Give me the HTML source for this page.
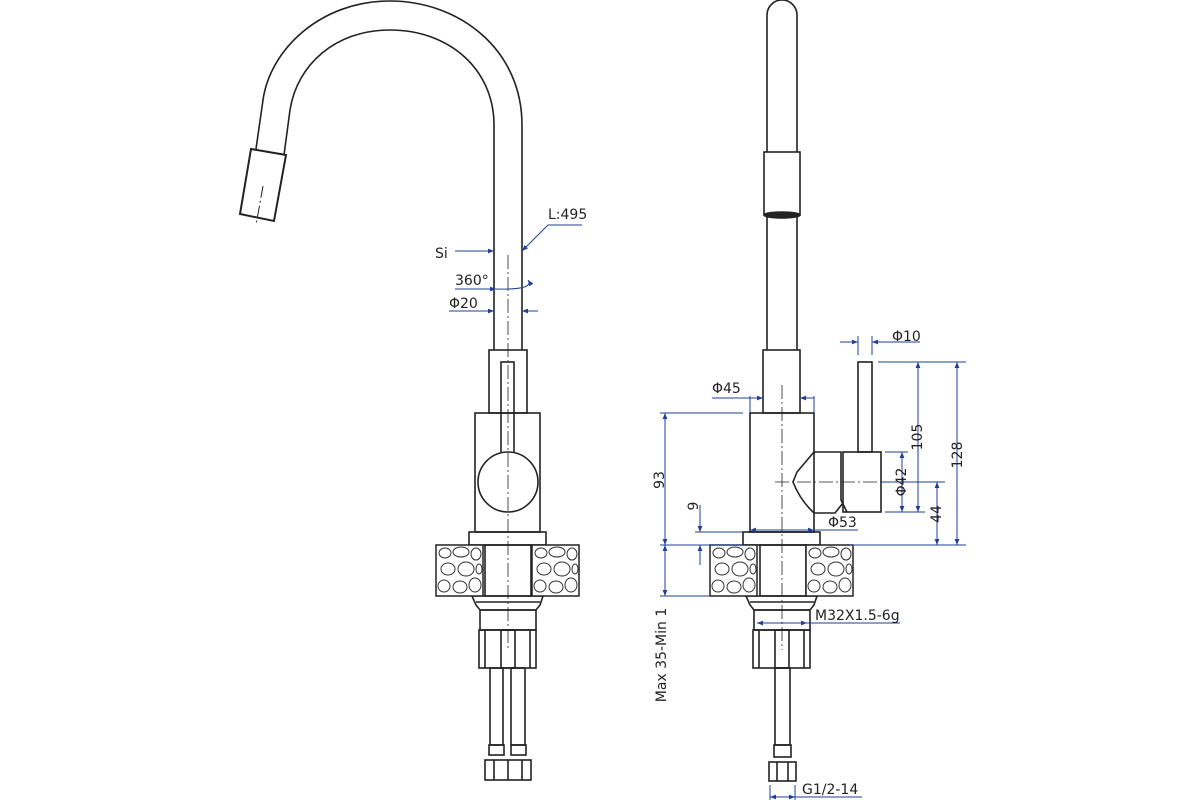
<!DOCTYPE html>
<html><head><meta charset="utf-8"><style>
html,body{margin:0;padding:0;background:#fff;}
svg{display:block;}
text{font-family:"DejaVu Sans","Liberation Sans",sans-serif;font-size:14px;fill:#222;}
</style></head><body>
<svg width="1200" height="800" viewBox="0 0 1200 800" xmlns="http://www.w3.org/2000/svg">
<defs>
<marker id="a" viewBox="0 0 10 10" refX="10" refY="5" markerWidth="9" markerHeight="6" orient="auto-start-reverse" markerUnits="userSpaceOnUse"><path d="M0,1 L10,5 L0,9 z" fill="#1f3f99"/></marker>
<g id="stone">
<rect x="0" y="0" width="47" height="51" fill="#fff" stroke="#222" stroke-width="1.5"/>
<g fill="none" stroke="#333" stroke-width="1">
<ellipse cx="9" cy="8" rx="6" ry="5"/><ellipse cx="25" cy="7" rx="8" ry="5"/><ellipse cx="40" cy="9" rx="5" ry="6"/>
<ellipse cx="12" cy="24" rx="7" ry="6"/><ellipse cx="30" cy="24" rx="8" ry="7"/><ellipse cx="8" cy="41" rx="6" ry="6"/>
<ellipse cx="24" cy="42" rx="7" ry="6"/><ellipse cx="39" cy="40" rx="6" ry="7"/><ellipse cx="43" cy="24" rx="3" ry="5"/>
</g></g>
</defs>
<g fill="none" stroke="#222" stroke-width="1.6">
<!-- LEFT VIEW spout -->
<path d="M522,350 L522,125 C522,50 460,1 390,1 C320,1 270,50 263,100 L256,149"/>
<path d="M494,350 L494,125 C494,70 450,30 390,30 C335,30 297,65 290,110 L284,155"/>
<path d="M251,149 L286,155 L274,221 L240,214 Z" stroke-width="2"/>
<line x1="263" y1="186" x2="256" y2="225" stroke-width="1" stroke-dasharray="12,3,2,3"/>
<rect x="489" y="350" width="38" height="63"/>
<rect x="501" y="362" width="13" height="92"/>
<rect x="475" y="413" width="65" height="119"/>
<circle cx="508" cy="482" r="30" fill="#fff"/>
<rect x="469" y="532" width="77" height="13"/>
<rect x="485" y="545" width="46" height="51"/>
<path d="M472,596 L543,596 L540,605 L536,610 L480,610 L476,605 Z"/>
<line x1="476" y1="602" x2="540" y2="602"/>
<rect x="480" y="610" width="56" height="20"/>
<rect x="479" y="630" width="57" height="38"/>
<line x1="485" y1="630" x2="485" y2="668"/><line x1="530" y1="630" x2="530" y2="668"/>
<rect x="501" y="630" width="14" height="38"/>
<rect x="490" y="668" width="13" height="77"/><rect x="511" y="668" width="14" height="77"/>
<rect x="489" y="745" width="15" height="10"/><rect x="511" y="745" width="15" height="10"/>
<rect x="485" y="760" width="46" height="20"/>
<line x1="494" y1="760" x2="494" y2="780"/><line x1="508" y1="760" x2="508" y2="780"/><line x1="522" y1="760" x2="522" y2="780"/>
<!-- RIGHT VIEW -->
<path d="M767,350 L767,15 A15,15 0 0 1 797,15 L797,350"/>
<rect x="764" y="152" width="36" height="63" fill="#fff"/>
<ellipse cx="782" cy="215" rx="18" ry="3" fill="#222"/>
<rect x="763" y="350" width="37" height="63"/>
<rect x="750" y="413" width="64" height="119"/>
<path d="M814,452 L797,472 L793,482 Q800,500 814,513 L835,513 L843,503"/>
<path d="M814,452 L841,452 L841,500 L847,512"/>
<rect x="843" y="452" width="38" height="60"/>
<rect x="858" y="362" width="14" height="90"/>
<rect x="743" y="532" width="77" height="13"/>
<rect x="760" y="545" width="46" height="51"/>
<path d="M746,596 L817,596 L814,605 L810,610 L754,610 L750,605 Z"/>
<line x1="750" y1="602" x2="814" y2="602"/>
<rect x="754" y="610" width="56" height="20"/>
<rect x="753" y="630" width="57" height="38"/>
<line x1="759" y1="630" x2="759" y2="668"/><line x1="804" y1="630" x2="804" y2="668"/>
<rect x="775" y="630" width="14" height="38"/>
<rect x="775" y="668" width="15" height="77"/>
<rect x="774" y="745" width="17" height="12"/>
<rect x="769" y="762" width="27" height="19"/>
<line x1="777" y1="762" x2="777" y2="781"/><line x1="788" y1="762" x2="788" y2="781"/>
</g>
<use href="#stone" x="436" y="545"/><use href="#stone" x="532" y="545"/>
<use href="#stone" x="710" y="545"/><use href="#stone" x="806" y="545"/>
<!-- center lines -->
<g stroke="#222" stroke-width="0.8" stroke-dasharray="14,3,2,3" fill="none">
<line x1="508" y1="255" x2="508" y2="650"/>
<line x1="782" y1="385" x2="782" y2="650"/>
<line x1="775" y1="482" x2="880" y2="482"/>
</g>
<!-- dimensions -->
<g stroke="#1f3f99" stroke-width="1" fill="none">
<line x1="455" y1="251" x2="494" y2="251" marker-end="url(#a)"/>
<polyline points="582,225 548,225 522,251" marker-end="url(#a)"/>
<line x1="455" y1="289" x2="496" y2="289" marker-end="url(#a)"/>
<path d="M496,289 Q535,290 528,280" marker-end="url(#a)"/>
<line x1="449" y1="311" x2="494" y2="311" marker-end="url(#a)"/>
<line x1="538" y1="311" x2="522" y2="311" marker-end="url(#a)"/>
<line x1="840" y1="342" x2="858" y2="342" marker-end="url(#a)"/>
<line x1="920" y1="342" x2="872" y2="342" marker-end="url(#a)"/>
<line x1="858" y1="336" x2="858" y2="355"/><line x1="872" y1="336" x2="872" y2="355"/>
<line x1="878" y1="362" x2="966" y2="362"/>
<line x1="850" y1="545" x2="966" y2="545"/>
<line x1="885" y1="512" x2="925" y2="512"/>
<line x1="885" y1="452" x2="908" y2="452"/>
<line x1="880" y1="482" x2="945" y2="482"/>
<line x1="957" y1="362" x2="957" y2="545" marker-start="url(#a)" marker-end="url(#a)"/>
<line x1="918" y1="362" x2="918" y2="512" marker-start="url(#a)" marker-end="url(#a)"/>
<line x1="902" y1="452" x2="902" y2="512" marker-start="url(#a)" marker-end="url(#a)"/>
<line x1="937" y1="482" x2="937" y2="545" marker-start="url(#a)" marker-end="url(#a)"/>
<line x1="660" y1="413" x2="743" y2="413"/>
<line x1="660" y1="545" x2="743" y2="545"/>
<line x1="660" y1="596" x2="710" y2="596"/>
<line x1="695" y1="532" x2="743" y2="532"/>
<line x1="665" y1="413" x2="665" y2="545" marker-start="url(#a)" marker-end="url(#a)"/>
<line x1="665" y1="545" x2="665" y2="596" marker-start="url(#a)" marker-end="url(#a)"/>
<line x1="700" y1="505" x2="700" y2="532" marker-end="url(#a)"/>
<line x1="700" y1="565" x2="700" y2="545" marker-end="url(#a)"/>
<line x1="750" y1="396" x2="750" y2="413"/><line x1="814" y1="396" x2="814" y2="413"/>
<line x1="712" y1="398" x2="763" y2="398" marker-end="url(#a)"/>
<line x1="750" y1="398" x2="763" y2="398"/>
<line x1="814" y1="398" x2="800" y2="398" marker-end="url(#a)"/>
<line x1="763" y1="530" x2="750" y2="530" marker-end="url(#a)"/>
<line x1="800" y1="530" x2="814" y2="530" marker-end="url(#a)"/>
<line x1="750" y1="530" x2="858" y2="530"/>
<line x1="770" y1="623" x2="757" y2="623" marker-end="url(#a)"/>
<line x1="795" y1="623" x2="807" y2="623" marker-end="url(#a)"/>
<line x1="757" y1="623" x2="900" y2="623"/>
<line x1="770" y1="785" x2="770" y2="800"/><line x1="795" y1="785" x2="795" y2="800"/>
<line x1="782" y1="797" x2="770" y2="797" marker-end="url(#a)"/>
<line x1="782" y1="797" x2="795" y2="797" marker-end="url(#a)"/>
<line x1="795" y1="797" x2="862" y2="797"/>
</g>
<text x="435" y="258">Si</text>
<text x="548" y="219">L:495</text>
<text x="455" y="285">360°</text>
<text x="449" y="308">Φ20</text>
<text x="892" y="341">Φ10</text>
<text x="712" y="393">Φ45</text>
<text x="828" y="527">Φ53</text>
<text x="815" y="620">M32X1.5-6g</text>
<text x="802" y="794">G1/2-14</text>
<text transform="translate(962,455) rotate(-90)" text-anchor="middle">128</text>
<text transform="translate(922,437) rotate(-90)" text-anchor="middle">105</text>
<text transform="translate(906,482) rotate(-90)" text-anchor="middle">Φ42</text>
<text transform="translate(941,514) rotate(-90)" text-anchor="middle">44</text>
<text transform="translate(664,480) rotate(-90)" text-anchor="middle">93</text>
<text transform="translate(698,506) rotate(-90)" text-anchor="middle">9</text>
<text transform="translate(666,655) rotate(-90)" text-anchor="middle">Max 35-Min 1</text>
</svg>
</body></html>
